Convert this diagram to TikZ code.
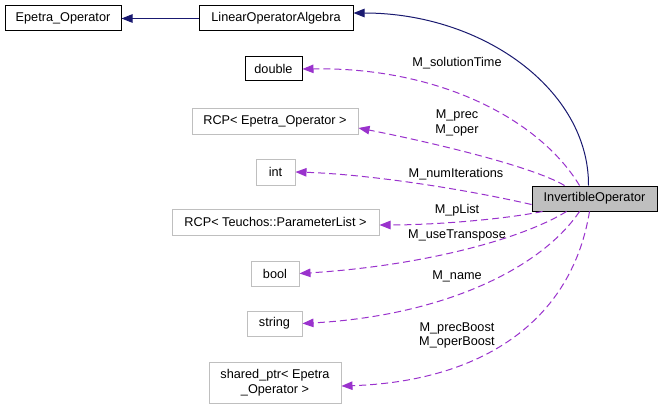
\documentclass[tikz,border=0pt]{standalone}
\usepackage{fontspec}
\setmainfont{Liberation Sans}
\usetikzlibrary{arrows.meta,calc}
\definecolor{navyedge}{HTML}{191970}
\definecolor{purpleedge}{HTML}{9A32CD}
\definecolor{greybox}{HTML}{BFBFBF}
\tikzset{
  every node/.style={font=\fontsize{12.7}{14.5}\selectfont, inner sep=0pt},
  blackbox/.style={draw=black, line width=1pt, fill=white},
  greyb/.style={draw=greybox, line width=1pt, fill=white},
  mainbox/.style={draw=black, line width=1pt, fill=greybox},
  inherit/.style={draw=navyedge, line width=1pt, -{Triangle[length=11pt,width=8.5pt]}},
  usage/.style={draw=purpleedge, line width=1pt, dash pattern=on 7pt off 4pt, -{Triangle[length=11pt,width=8.5pt]}},
  elabel/.style={align=center}
}
\begin{document}
\begin{tikzpicture}[x=1pt,y=-1pt]
\path[use as bounding box, fill=white] (0,0) rectangle (663,409);

\node[blackbox, minimum width=116pt, minimum height=25pt] (epetra) at (63,18.5) {Epetra\_Operator};
\node[blackbox, minimum width=154pt, minimum height=25pt] (loa) at (276,18.5) {LinearOperatorAlgebra};
\node[blackbox, minimum width=57pt, minimum height=24pt] (double) at (273.5,69) {double};
\node[greyb, minimum width=166pt, minimum height=25pt] (rcpop) at (275,121.5) {RCP< Epetra\_Operator >};
\node[greyb, minimum width=39pt, minimum height=26pt] (int) at (275.5,172) {int};
\node[greyb, minimum width=207pt, minimum height=26pt] (rcppl) at (275.5,222) {RCP< Teuchos::ParameterList >};
\node[greyb, minimum width=48pt, minimum height=25pt] (bool) at (275,273.5) {bool};
\node[greyb, minimum width=55pt, minimum height=25pt] (string) at (274.5,323.5) {string};
\node[greyb, minimum width=132pt, minimum height=41pt, align=center] (shptr) at (275,382.5) {shared\_ptr< Epetra\\\_Operator >};
\node[mainbox, minimum width=125pt, minimum height=25pt] (inv) at (594.5,198.5) {InvertibleOperator};

% inheritance
\draw[inherit] (loa.west) -- (epetra.east);
\coordinate (invtop) at ([xshift=57pt]inv.north west);
\coordinate (loaright) at ([yshift=5.5pt]loa.east);
\draw[inherit] (invtop) .. controls (589,90) and (483,13) .. (loaright);

% usage
\coordinate (s1) at ([xshift=48pt]inv.north west);
\draw[usage] (s1) .. controls (540,120) and (440,67) .. (double.east);
\coordinate (s2) at ([xshift=33pt]inv.north west);
\coordinate (e2) at ([yshift=-6.5pt]rcpop.east);
\draw[usage] (s2) .. controls (530,165) and (420,140) .. (e2);
\coordinate (s3) at ([yshift=-6pt]inv.west);
\draw[usage] (s3) .. controls (450,186) and (360,174) .. (int.east);
\coordinate (s4) at ([xshift=11pt]inv.south west);
\coordinate (e4) at ([yshift=-3pt]rcppl.east);
\draw[usage] (s4) .. controls (500,220) and (430,225) .. (e4);
\coordinate (s5) at ([xshift=35pt]inv.south west);
\draw[usage] (s5) .. controls (520,240) and (420,266) .. (bool.east);
\coordinate (s6) at ([xshift=48pt]inv.south west);
\draw[usage] (s6) .. controls (540,270) and (440,316) .. (string.east);
\coordinate (s7) at ([xshift=58pt]inv.south west);
\coordinate (e7) at ([yshift=-3.5pt]shptr.east);
\draw[usage] (s7) .. controls (570,330) and (470,382) .. (e7);

% labels
\node[elabel] (l1) at (457,63) {M\_solutionTime};
\node[elabel] (l2) at (457,123) {M\_prec\\M\_oper};
\node[elabel] (l3) at (456,174) {M\_numIterations};
\node[elabel] (l4) at (457,210) {M\_pList};
\node[elabel] (l5) at (457,235) {M\_useTranspose};
\node[elabel] (l6) at (457,276) {M\_name};
\node[elabel] (l7) at (457,335.5) {M\_precBoost\\M\_operBoost};
\end{tikzpicture}
\end{document}
